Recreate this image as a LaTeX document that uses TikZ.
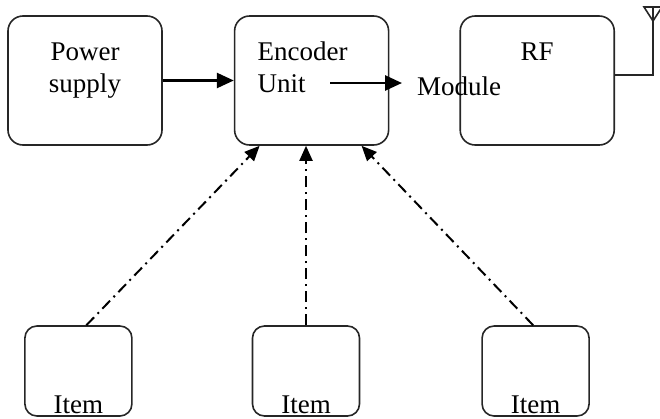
\documentclass[tikz,border=0pt]{standalone}
\usepackage{fontspec}
\setmainfont{Liberation Serif}
\usetikzlibrary{arrows.meta, positioning, calc}

\begin{document}
\begin{tikzpicture}[
    x=1pt, y=-1pt,
    block/.style={rectangle, rounded corners=15pt, draw=black!85, line width=1.6pt,
                  minimum width=154pt, minimum height=129pt, inner sep=0pt,
                  font=\fontsize{27}{32}\selectfont,
                  text height=19pt, text depth=60pt},
    itembox/.style={rectangle, rounded corners=12pt, draw=black!85, line width=1.6pt,
                    minimum width=107pt, minimum height=90pt, inner sep=0pt,
                    font=\fontsize{27}{32}\selectfont,
                    text height=85pt, text depth=0pt},
    lbl/.style={font=\fontsize{27}{32}\selectfont, inner sep=0pt},
    wire/.style={line width=1.6pt, black!85},
    arr/.style={-{Triangle[length=17pt, width=15pt]}, line width=2.6pt},
    sig/.style={-{Triangle[length=15pt, width=13pt]}, line width=2pt,
                dash pattern=on 11pt off 5pt on 2pt off 5pt}
]
\useasboundingbox (0,0) rectangle (660,418);

\node[block, align=center, text width=90pt] (power) at (85,80.5) {Power\\supply};
\node[block, right=71pt of power, align=left, text width=108pt] (encoder) {Encoder\\Unit};
\node[block, right=70pt of encoder] (rf) {RF};
\node[lbl, anchor=base west] (module) at (417,95) {Module};

\node[itembox] (item2) at (306,371) {Item};
\node[itembox, left=119pt of item2]  (item1) {Item};
\node[itembox, right=121pt of item2] (item3) {Item};

% antenna
\coordinate (mast) at (653,7);
\draw[wire] ($(rf.east)+(0,5.5pt)$) -| (mast);
\draw[wire] ($(mast)+(-9pt,0)$) -- ($(mast)+(9pt,0)$) -- ($(mast)+(0,-14pt)$) -- cycle;

% Arrows
\coordinate (unitend) at (330,83);
\draw[arr] (power) -- (encoder);
\draw[arr, shorten >=15pt] (unitend) -- (unitend -| module.west);
\draw[sig] ($(item1.north)+(8pt,0)$)    -- ($(encoder.south)+(-52pt,0)$);
\draw[sig] (item2.north)                -- (item2.north |- encoder.south);
\draw[sig] ($(item3.north)+(-2.5pt,0)$) -- ($(encoder.south)+(50pt,0)$);

\end{tikzpicture}
\end{document}
